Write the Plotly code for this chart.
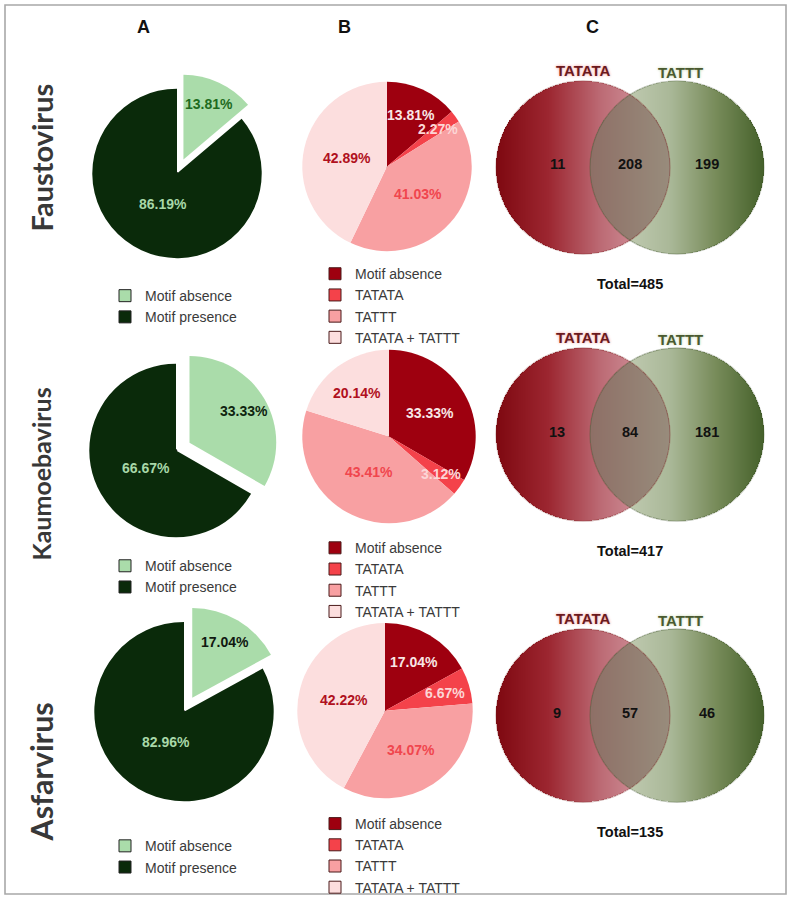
import math
import numpy as np
import plotly.graph_objects as go

W, H = 793, 903

# ---------------- data ----------------
viruses = ["Faustovirus", "Kaumoebavirus", "Asfarvirus"]
panel_titles = ["A", "B", "C"]

a_labels = ["Motif absence", "Motif presence"]
a_faust = [13.81, 86.19]
a_kaum = [33.33, 66.67]
a_asfar = [17.04, 82.96]

b_labels = ["Motif absence", "TATATA", "TATTT", "TATATA + TATTT"]
b_faust = [13.81, 2.27, 41.03, 42.89]
b_kaum = [33.33, 3.12, 43.41, 20.14]
b_asfar = [17.04, 6.67, 34.07, 42.22]

venn_sets = ["TATATA", "TATTT"]
venn_tatata_only = [11, 13, 9]
venn_both = [208, 84, 57]
venn_tattt_only = [199, 181, 46]
venn_total = [485, 417, 135]

a_values = [a_faust, a_kaum, a_asfar]
b_values = [b_faust, b_kaum, b_asfar]

# ---------------- style / layout ----------------
a_colors = ["#aadcaa", "#0a2a0a"]
b_colors = ["#9e000f", "#f4424a", "#f8a0a2", "#fcdede"]
a_text_colors = [["#1e6b1e", "#a8d8a8"], ["#0f240f", "#a8d8a8"], ["#101810", "#a8d8a8"]]
b_text_colors = ["#f8e6e6", "#fcd6d6", "#f0464e", "#b01020"]
a_geom = [(177, 174, 85), (176, 452, 87), (184, 714, 90)]
b_geom = [(387, 167, 85), (389, 438, 87), (385, 713, 88)]
a_pull = 0.18
a_leg_y = [281, 552, 833]
b_leg_y = [259, 534, 811]
venn_cy = [168, 436, 718]
venn_cx = (583, 677)
venn_r = 87
row_label_y = [158, 476, 775]
row_label_size = [29, 25, 30.5]

FONT = "Liberation Sans, Arial, sans-serif"
ZW = "\u200b"  # keeps legend entries of different panels distinct


def px(x):
    return x / W


def py(y):
    return 1 - y / H


fig = go.Figure()
annotations = []
shapes = []


def label_positions(values, cx, cy, r, fracs, pulls=None):
    out = []
    cum = 0.0
    tot = sum(values)
    for i, v in enumerate(values):
        th = math.radians(360 * (cum + v / 2) / tot)
        d = r * fracs[i]
        if pulls:
            d += r * pulls[i]
        out.append((cx + d * math.sin(th), cy - d * math.cos(th)))
        cum += v
    return out


for i in range(3):
    # ---------- Pie A ----------
    cx, cy, r = a_geom[i]
    half = r * (1 + a_pull)
    leg_a = "legend" if i == 0 else f"legend{2 * i + 1}"
    leg_b = f"legend{2 * i + 2}"
    la = [lab + ZW * (2 * i + 1) for lab in a_labels]
    lb = [lab + ZW * (2 * i + 2) for lab in b_labels]
    # legend-only pie (tiny, hidden under the real pie) carrying bordered swatches
    fig.add_trace(go.Pie(
        labels=la, values=a_values[i], sort=False, direction="clockwise",
        marker=dict(colors=a_colors, line=dict(color="#222222", width=1)),
        textinfo="none", hoverinfo="skip", showlegend=True, legend=leg_a,
        domain=dict(x=[px(cx) - 0.001, px(cx) + 0.001], y=[py(cy) - 0.001, py(cy) + 0.001]),
    ))
    fig.add_trace(go.Pie(
        labels=la, values=a_values[i], sort=False, direction="clockwise",
        pull=[a_pull, 0], marker=dict(colors=a_colors, line=dict(width=0)),
        textinfo="none", showlegend=False,
        domain=dict(x=[px(cx - half), px(cx + half)], y=[py(cy + half), py(cy - half)]),
    ))
    pos = label_positions(a_values[i], cx, cy, r, [0.72, 0.4], [a_pull, 0])
    for j, v in enumerate(a_values[i]):
        annotations.append(dict(
            x=pos[j][0], y=pos[j][1], xref="x", yref="y", showarrow=False,
            text=f"{v:.2f}%", font=dict(family=FONT, size=14, color=a_text_colors[i][j], weight="bold"),
        ))

    # ---------- Pie B ----------
    cx, cy, r = b_geom[i]
    fig.add_trace(go.Pie(
        labels=lb, values=b_values[i], sort=False, direction="clockwise",
        marker=dict(colors=b_colors, line=dict(color="#4a1a1a", width=1)),
        textinfo="none", hoverinfo="skip", showlegend=True, legend=leg_b,
        domain=dict(x=[px(cx) - 0.001, px(cx) + 0.001], y=[py(cy) - 0.001, py(cy) + 0.001]),
    ))
    fig.add_trace(go.Pie(
        labels=lb, values=b_values[i], sort=False, direction="clockwise",
        marker=dict(colors=b_colors, line=dict(width=0)),
        textinfo="none", showlegend=False,
        domain=dict(x=[px(cx - r), px(cx + r)], y=[py(cy + r), py(cy - r)]),
    ))
    fr = [0.76 - 0.0066 * v for v in b_values[i]]
    pos = label_positions(b_values[i], cx, cy, r, fr)
    for j, v in enumerate(b_values[i]):
        annotations.append(dict(
            x=pos[j][0], y=pos[j][1], xref="x", yref="y", showarrow=False,
            text=f"{v:.2f}%", font=dict(family=FONT, size=14, color=b_text_colors[j], weight="bold"),
        ))

    # ---------- Legends ----------
    leg_common = dict(
        font=dict(family=FONT, size=14, color="#3a3a3a"),
        bgcolor="rgba(0,0,0,0)", borderwidth=0, xanchor="left", yanchor="top",
        itemclick=False, itemdoubleclick=False,
    )
    fig.update_layout({
        leg_a: dict(x=px(105), y=py(a_leg_y[i]), **leg_common),
        leg_b: dict(x=px(315), y=py(b_leg_y[i]), **leg_common),
    })

    # ---------- Venn ----------
    cyv = venn_cy[i]
    cxl, cxr = venn_cx
    rr = venn_r
    xs = np.arange(cxl - rr - 1, cxr + rr + 2, 1.0) + 0.5
    ys = np.arange(cyv - rr - 1, cyv + rr + 2, 1.0) + 0.5
    X, Y = np.meshgrid(xs, ys)
    inL = (X - cxl) ** 2 + (Y - cyv) ** 2 <= rr ** 2
    inR = (X - cxr) ** 2 + (Y - cyv) ** 2 <= rr ** 2
    tL = np.clip((X - (cxl - rr)) / (2 * rr), 0, 1)
    tR = np.clip((X - (cxr - rr)) / (2 * rr), 0, 1)
    sO = np.clip((X - (cxr - rr)) / ((cxl + rr) - (cxr - rr)), 0, 1)
    Z = np.full(X.shape, np.nan)
    Z[inL & ~inR] = (tL * 0.998 + 0.001)[inL & ~inR]
    Z[inR & ~inL] = (2.001 + tR * 0.998)[inR & ~inL]
    Z[inL & inR] = (1.001 + sO * 0.998)[inL & inR]
    Z = np.round(Z, 3)
    fig.add_trace(go.Heatmap(
        x=xs, y=ys, z=Z, zmin=0, zmax=3, showscale=False, hoverinfo="skip",
        colorscale=[
            [0.0, "#7e0810"], [0.1, "#9c2630"], [0.2, "#bc6a74"], [0.3333, "#dcaab2"],
            [0.33334, "#8e6f66"], [0.6666, "#988c7c"],
            [0.66667, "#d2dac6"], [0.82, "#aab898"], [0.91, "#768a58"], [1.0, "#44602a"],
        ],
        xaxis="x", yaxis="y",
    ))
    shapes.append(dict(type="circle", xref="x", yref="y", x0=cxl - rr, x1=cxl + rr,
                       y0=cyv - rr, y1=cyv + rr, line=dict(color="rgba(120,30,30,0.35)", width=1.2)))
    shapes.append(dict(type="circle", xref="x", yref="y", x0=cxr - rr, x1=cxr + rr,
                       y0=cyv - rr, y1=cyv + rr, line=dict(color="rgba(60,80,40,0.35)", width=1.2)))
    annotations.append(dict(x=cxl, y=cyv - rr - 10, xref="x", yref="y", showarrow=False,
                            text=venn_sets[0],
                            font=dict(family=FONT, size=15, color="#6b1a1e", weight="bold",
                                      shadow="0px 0px 3px #f09090")))
    annotations.append(dict(x=cxr + 3, y=cyv - rr - 8, xref="x", yref="y", showarrow=False,
                            text=venn_sets[1],
                            font=dict(family=FONT, size=15, color="#4a5a30", weight="bold",
                                      shadow="0px 0px 3px #c0d0a8")))
    nums = [venn_tatata_only[i], venn_both[i], venn_tattt_only[i]]
    nx = [cxl - 26, (cxl + cxr) / 2, cxr + 30]
    for k in range(3):
        annotations.append(dict(x=nx[k], y=cyv - 3, xref="x", yref="y", showarrow=False,
                                text=str(nums[k]),
                                font=dict(family=FONT, size=14.5, color="#111111", weight="bold")))
    annotations.append(dict(x=(cxl + cxr) / 2, y=cyv + rr + 30, xref="x", yref="y", showarrow=False,
                            text=f"Total={venn_total[i]}",
                            font=dict(family=FONT, size=14.5, color="#111111", weight="bold")))

    # ---------- Row label ----------
    annotations.append(dict(x=41, y=row_label_y[i], xref="x", yref="y", showarrow=False,
                            text=viruses[i], textangle=-90,
                            font=dict(family="Lato, Open Sans, sans-serif", size=row_label_size[i],
                                      color="#383838", weight="bold")))

# panel titles
for t, x in zip(panel_titles, [143, 344, 592]):
    annotations.append(dict(x=x, y=27, xref="x", yref="y", showarrow=False, text=t,
                            font=dict(family=FONT, size=18, color="#111111", weight="bold")))

# outer frame
shapes.append(dict(type="rect", xref="x", yref="y", x0=5, x1=786, y0=5, y1=897,
                   line=dict(color="#a8a8a8", width=1.6), layer="below"))

fig.update_layout(
    width=W, height=H, margin=dict(l=0, r=0, t=0, b=0),
    paper_bgcolor="white", plot_bgcolor="white",
    xaxis=dict(range=[0, W], domain=[0, 1], visible=False, fixedrange=True),
    yaxis=dict(range=[H, 0], domain=[0, 1], visible=False, fixedrange=True),
    annotations=annotations, shapes=shapes,
)

fig.write_html("out.html", config={"displayModeBar": False},
               post_script="document.body.style.margin='0px';")
